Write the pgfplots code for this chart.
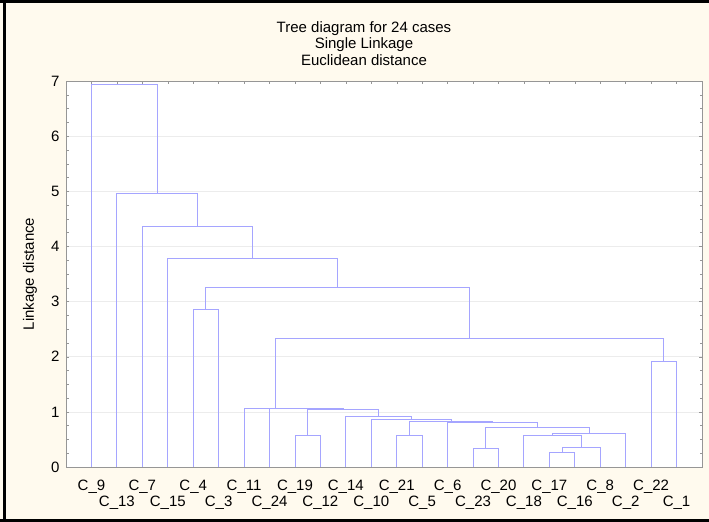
\documentclass[border=0pt]{standalone}
\usepackage{fontspec}
\setmainfont{Liberation Sans}
\usepackage{pgfplots}
\pgfplotsset{compat=1.18}
\definecolor{cream}{RGB}{255,250,238}
\definecolor{dendblue}{RGB}{165,165,255}
\definecolor{axgray}{RGB}{150,150,150}
\definecolor{gridgray}{RGB}{236,236,236}
\newcommand{\tfont}{\fontsize{15bp}{17bp}\selectfont}
\pgfplotsset{dend/.style={color=dendblue, line width=0.9bp, solid, mark=none}}
\begin{document}
\begin{tikzpicture}
\fill[cream] (0,0) rectangle (709bp,522bp);
\useasboundingbox (0,0) rectangle (709bp,522bp);
\begin{axis}[
  at={(66bp,55bp)}, anchor=south west,
  width=636bp, height=386bp, scale only axis,
  xmin=0, xmax=25, ymin=0, ymax=7,
  axis background/.style={fill=white},
  axis line style={axgray},
  every tick/.style={axgray},
  major tick length=3bp, minor tick length=2.5bp,
  tick align=inside,
  xtick={1,3,...,23},
  xticklabels={C\_9,C\_7,C\_4,C\_11,C\_19,C\_14,C\_21,C\_6,C\_20,C\_17,C\_8,C\_22},
  extra x ticks={2,4,...,24},
  extra x tick labels={C\_13,C\_15,C\_3,C\_24,C\_12,C\_10,C\_5,C\_23,C\_18,C\_16,C\_2,C\_1},
  extra x tick style={xticklabel style={yshift=-16.5bp}},
  xtick pos=right, xticklabel pos=left,
  ytick={0,1,...,7}, minor y tick num=3,
  ytick pos=both, yticklabel pos=left,
  ymajorgrids, grid style={gridgray, line width=0.6bp},
  /pgf/number format/assume math mode=true,
  tick label style={font=\tfont},
  yticklabel style={xshift=-3bp},
  xticklabel style={yshift=-9.5bp},
  ylabel={Linkage distance},
  every axis y label/.style={at={(axis description cs:-0.0567,0.5)}, rotate=90, anchor=center, font=\tfont},
]
% each merge: (left child x, left height) (left x, merge height) (right x, merge height) (right x, right height)
\addplot[dend] coordinates {(19,0) (19,0.27) (20,0.27) (20,0)};
\addplot[dend] coordinates {(19.5,0.27) (19.5,0.36) (21,0.36) (21,0)};
\addplot[dend] coordinates {(18,0) (18,0.57) (20.25,0.57) (20.25,0.36)};
\addplot[dend] coordinates {(19.125,0.57) (19.125,0.61) (22,0.61) (22,0)};
\addplot[dend] coordinates {(16,0) (16,0.345) (17,0.345) (17,0)};
\addplot[dend] coordinates {(16.5,0.345) (16.5,0.72) (20.5625,0.72) (20.5625,0.61)};
\addplot[dend] coordinates {(15,0) (15,0.81) (18.5313,0.81) (18.5313,0.72)};
\addplot[dend] coordinates {(13,0) (13,0.565) (14,0.565) (14,0)};
\addplot[dend] coordinates {(13.5,0.565) (13.5,0.835) (16.7656,0.835) (16.7656,0.81)};
\addplot[dend] coordinates {(12,0) (12,0.865) (15.1328,0.865) (15.1328,0.835)};
\addplot[dend] coordinates {(11,0) (11,0.915) (13.5664,0.915) (13.5664,0.865)};
\addplot[dend] coordinates {(9,0) (9,0.575) (10,0.575) (10,0)};
\addplot[dend] coordinates {(9.5,0.575) (9.5,1.04) (12.2832,1.04) (12.2832,0.915)};
\addplot[dend] coordinates {(8,0) (8,1.055) (10.8916,1.055) (10.8916,1.04)};
\addplot[dend] coordinates {(7,0) (7,1.066) (9.4458,1.066) (9.4458,1.055)};
\addplot[dend] coordinates {(23,0) (23,1.915) (24,1.915) (24,0)};
\addplot[dend] coordinates {(8.2229,1.066) (8.2229,2.33) (23.5,2.33) (23.5,1.915)};
\addplot[dend] coordinates {(5,0) (5,2.85) (6,2.85) (6,0)};
\addplot[dend] coordinates {(5.5,2.85) (5.5,3.25) (15.8615,3.25) (15.8615,2.33)};
\addplot[dend] coordinates {(4,0) (4,3.79) (10.6807,3.79) (10.6807,3.25)};
\addplot[dend] coordinates {(3,0) (3,4.36) (7.3404,4.36) (7.3404,3.79)};
\addplot[dend] coordinates {(2,0) (2,4.96) (5.1702,4.96) (5.1702,4.36)};
\addplot[dend] coordinates {(1,0) (1,6.94) (3.5851,6.94) (3.5851,4.96)};
\end{axis}
\node[font=\tfont, anchor=base] at (364bp,489.6bp) {Tree diagram for 24 cases};
\node[font=\tfont, anchor=base] at (364bp,473.6bp) {Single Linkage};
\node[font=\tfont, anchor=base] at (364bp,456.6bp) {Euclidean distance};
\draw[black, line width=3bp] (0,1.5bp) -- (709bp,1.5bp);
\draw[black, line width=3bp] (0,520.5bp) -- (709bp,520.5bp);
\draw[black, line width=3bp] (4.5bp,0) -- (4.5bp,522bp);
\end{tikzpicture}
\end{document}
